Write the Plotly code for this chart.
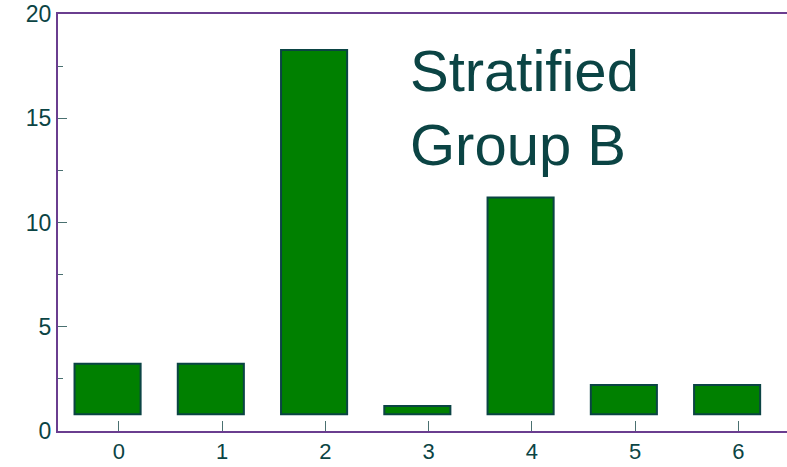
import plotly.graph_objects as go

categories = [0, 1, 2, 3, 4, 5, 6]
bar_top = [3.22, 3.22, 18.27, 1.2, 11.2, 2.21, 2.21]
bar_base = [0.8, 0.8, 0.8, 0.8, 0.8, 0.8, 0.8]
heights = [t - b for t, b in zip(bar_top, bar_base)]
label_lines = ["Stratified", "Group B"]

teal = "#0b4444"
purple = "#6a3d8f"

fig = go.Figure()
fig.add_trace(go.Bar(
    x=categories, y=heights, base=bar_base, width=0.64, offset=-0.43,
    marker=dict(color="#008000", line=dict(color=teal, width=2)),
    showlegend=False,
))

for line, ypos in zip(label_lines, [0.948, 0.769]):
    fig.add_annotation(
        x=0.480, y=ypos, xref="paper", yref="paper",
        xanchor="left", yanchor="top", align="left",
        text=line, showarrow=False,
        font=dict(size=58, color=teal, family="Liberation Sans, Arial, sans-serif"),
    )

fig.update_layout(
    width=787, height=467,
    margin=dict(l=58, r=0, t=14, b=36),
    plot_bgcolor="white", paper_bgcolor="white",
    font=dict(family="Liberation Sans, Arial, sans-serif", size=23, color=teal),
)
fig.update_xaxes(
    range=[-0.59, 6.47], tickmode="array", tickvals=categories,
    ticktext=[str(c) for c in categories],
    showline=True, linecolor=purple, linewidth=2, mirror=True,
    ticks="inside", ticklen=10, tickcolor="#4a7070", tickwidth=1,
    showgrid=False, zeroline=False, tickfont=dict(size=22, color=teal),
)
fig.update_yaxes(
    range=[0, 20], tickvals=[0, 5, 10, 15, 20],
    showline=True, linecolor=purple, linewidth=2, mirror=False,
    ticks="inside", ticklen=9, tickcolor="#4a7070", tickwidth=1,
    minor=dict(tickvals=[2.5, 7.5, 12.5, 17.5], ticks="inside", ticklen=5, tickcolor="#4a7070"),
    showgrid=False, zeroline=False, tickfont=dict(size=23, color=teal),
)

fig.write_html("out.html")
